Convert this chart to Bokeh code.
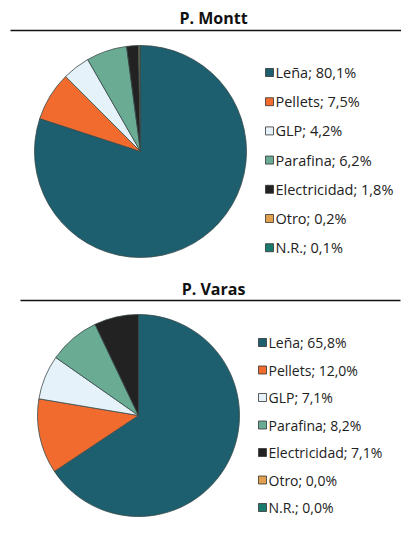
import math
from bokeh.plotting import figure
from bokeh.models import Range1d
from bokeh.core.properties import value
from bokeh.embed import file_html
from bokeh.resources import INLINE

# ---- data ----
categories = ["Leña", "Pellets", "GLP", "Parafina", "Electricidad", "Otro", "N.R."]
colors = ["#1d5f6f", "#f26b2e", "#e6f2f9", "#6aab94", "#222222", "#e0a050", "#1a7a6c"]
montt_values = [80.1, 7.5, 4.2, 6.2, 1.8, 0.2, 0.1]
varas_values = [65.8, 12.0, 7.1, 8.2, 7.1, 0.0, 0.0]
titles = ["P. Montt", "P. Varas"]

W, H = 401, 522


def X(xr):
    return xr


def Y(yr):
    return 538 - yr


p = figure(width=W, height=H, output_backend="svg", toolbar_location=None,
           x_range=Range1d(0, W), y_range=Range1d(538 - H, 538),
           min_border=0)
p.axis.visible = False
p.grid.visible = False
p.outline_line_color = None
p.background_fill_color = "white"
p.border_fill_color = "white"

FONT = value("Open Sans")


def fmt(v):
    return f"{v:.1f}".replace(".", ",") + "%"


def draw_pie(vals, cx, cy, r):
    total = sum(vals)
    cum = 0.0
    for v, c in zip(vals, colors):
        if v <= 0:
            continue
        a0 = math.pi / 2 - 2 * math.pi * cum / total
        cum += v
        a1 = math.pi / 2 - 2 * math.pi * cum / total
        p.wedge(x=X(cx), y=Y(cy), radius=r, start_angle=a1, end_angle=a0,
                direction="anticlock", fill_color=c, line_color="#3a4a4a",
                line_width=0.8)


def draw_legend(vals, sx, tx, y0, dy, fs):
    for i, (cat, v, c) in enumerate(zip(categories, vals, colors)):
        y = y0 + i * dy
        p.rect(x=X(sx), y=Y(y), width=8, height=8, fill_color=c,
               line_color="#333333", line_width=0.8)
        p.text(x=X(tx), y=Y(y), text=[f"{cat}; {fmt(v)}"], text_font=FONT,
               text_font_size=fs, text_baseline="middle", text_align="left",
               text_color="#222222")


# Titles and rules
p.text(x=X(213), y=Y(17), text=[titles[0]], text_font=FONT, text_font_style="bold",
       text_font_size="16px", text_align="center", text_baseline="middle", text_color="#111111")
p.line(x=[X(10), X(401)], y=[Y(30), Y(30)], line_color="#111111", line_width=1.5)
p.text(x=X(213), y=Y(288), text=[titles[1]], text_font=FONT, text_font_style="bold",
       text_font_size="16px", text_align="center", text_baseline="middle", text_color="#111111")
p.line(x=[X(20), X(400)], y=[Y(300), Y(300)], line_color="#111111", line_width=1.5)

draw_pie(montt_values, 140, 151, 106)
draw_pie(varas_values, 138, 415, 101)

draw_legend(montt_values, 269, 275, 72, 29.2, "14.5px")
draw_legend(varas_values, 262, 268, 342, 27.5, "14px")

open("out.html", "w").write(file_html(p, INLINE))
